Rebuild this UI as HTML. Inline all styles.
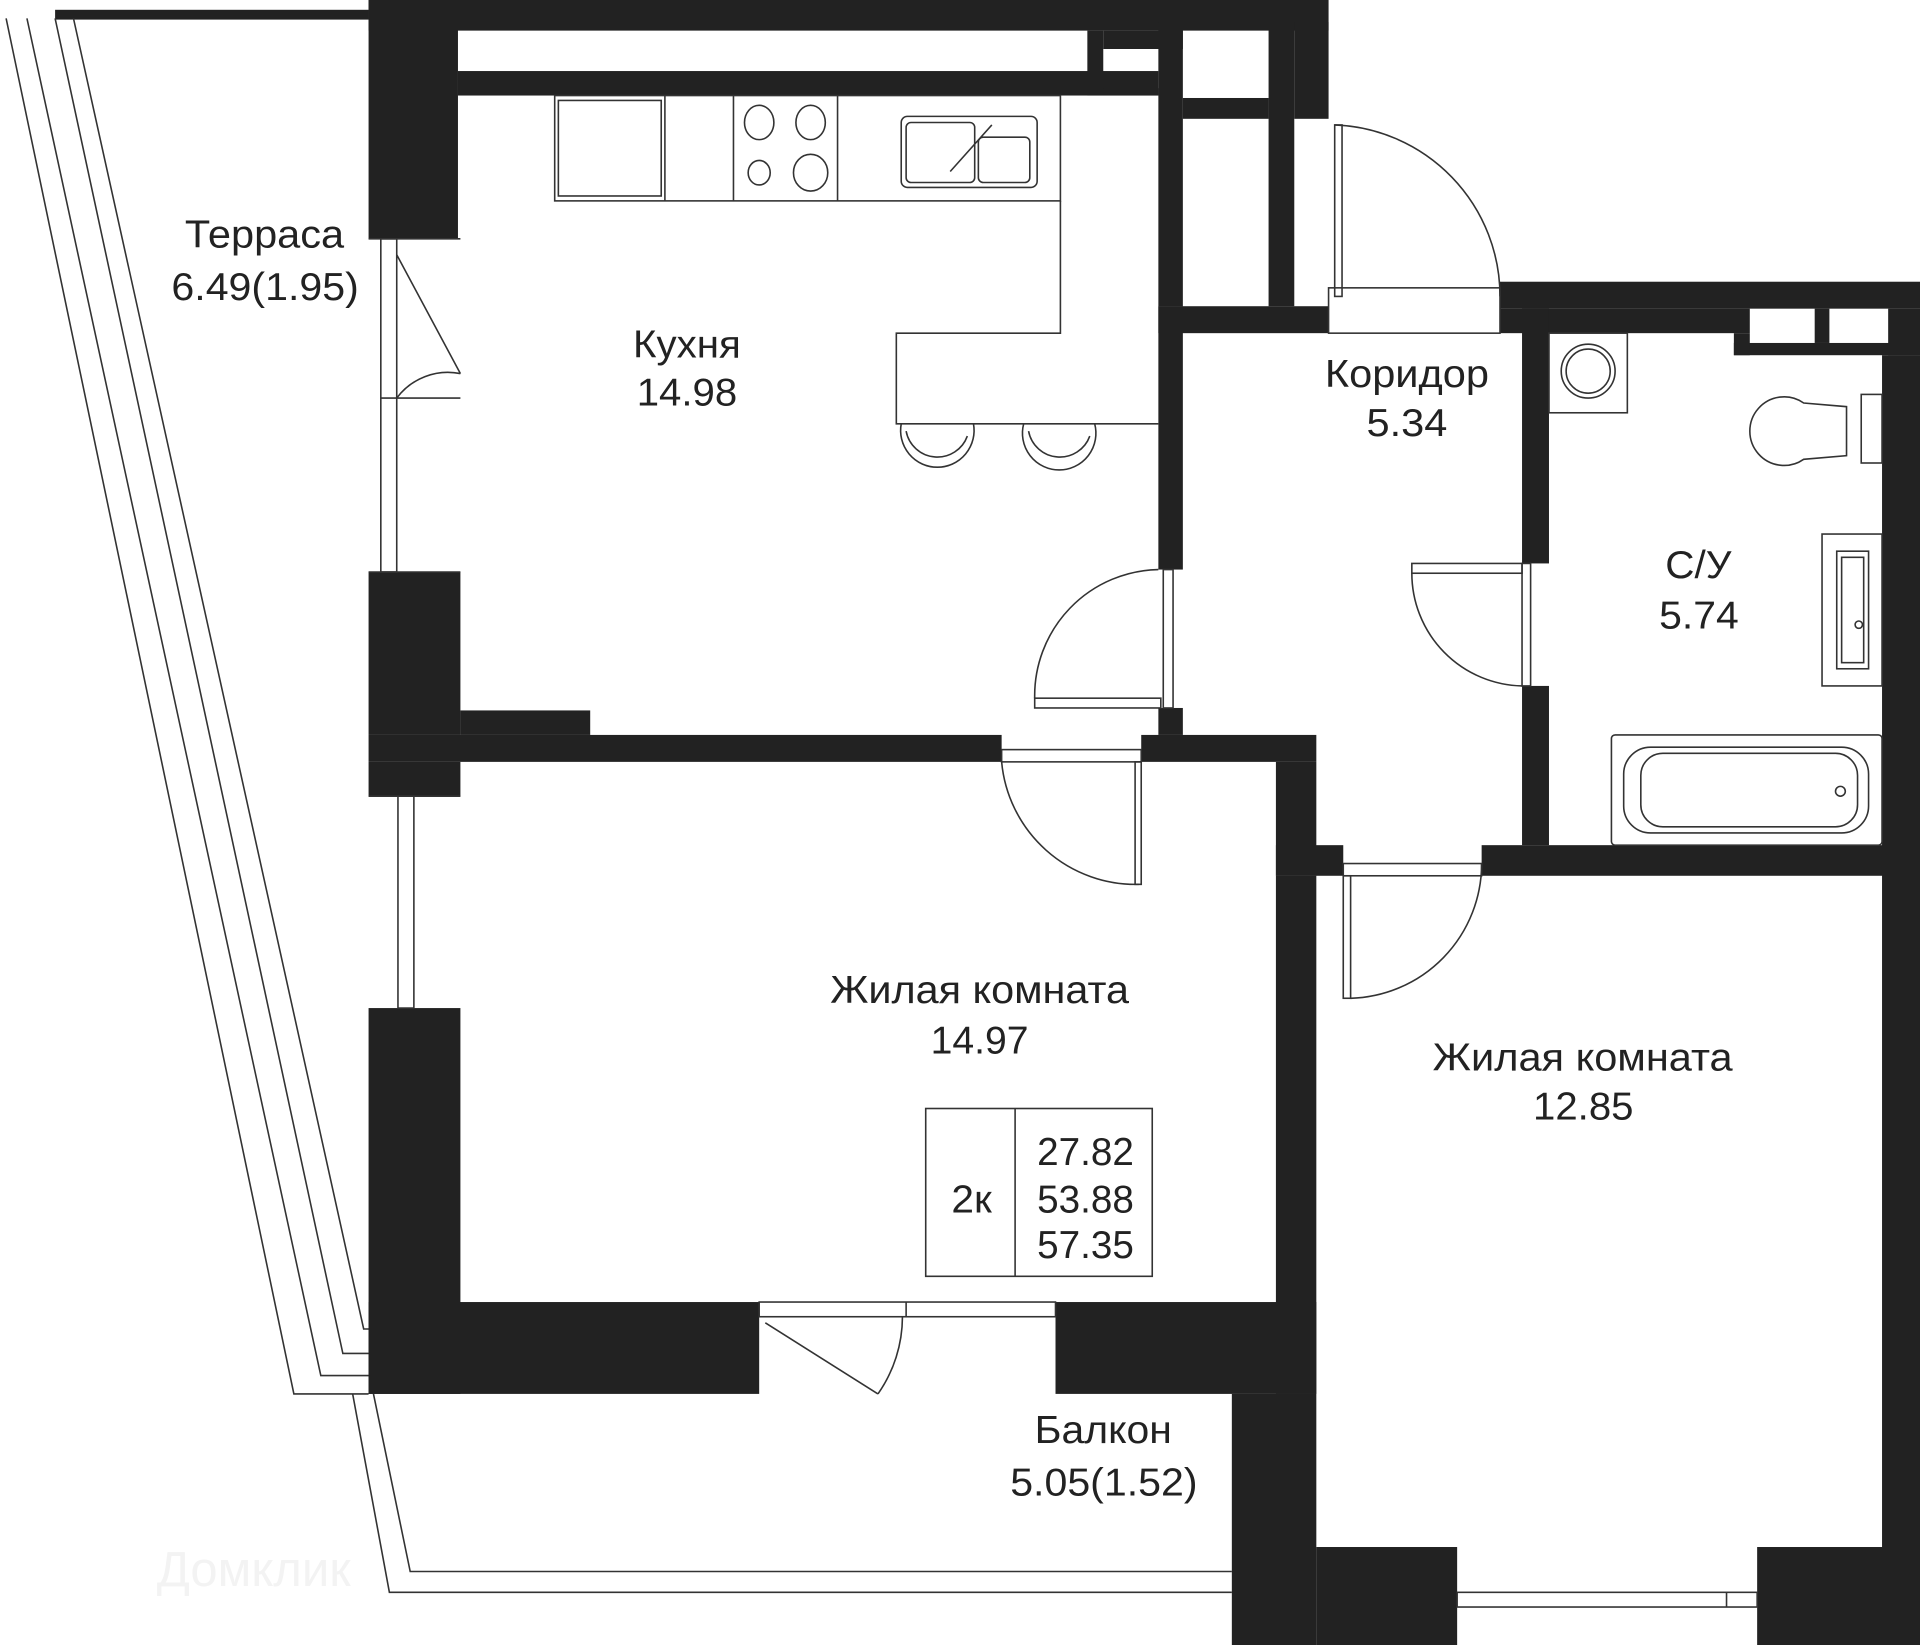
<!DOCTYPE html>
<html><head><meta charset="utf-8"><style>
html,body{margin:0;padding:0;background:#fff;}
svg{display:block;}
text{font-family:"Liberation Sans",sans-serif;fill:#222;}
</style></head><body>
<svg width="1920" height="1645" viewBox="0 0 1568 1343" preserveAspectRatio="none" xmlns="http://www.w3.org/2000/svg">
<rect width="1568" height="1343" fill="#fff"/>
<g fill="#222">
<rect x="301" y="0" width="784" height="25"/>
<rect x="301" y="0" width="73" height="195"/>
<rect x="374" y="58" width="572" height="20"/>
<rect x="888" y="25" width="13" height="53"/>
<rect x="901" y="25" width="65" height="15"/>
<rect x="901" y="72" width="45" height="6"/>
<rect x="946" y="18" width="20" height="232"/>
<rect x="966" y="80" width="70" height="17"/>
<rect x="1036" y="18" width="21" height="232"/>
<rect x="1057" y="18" width="28" height="79"/>
<rect x="946" y="250" width="139" height="22"/>
<rect x="946" y="250" width="20" height="215"/>
<rect x="1225" y="230" width="343" height="22"/>
<rect x="1225" y="252" width="40" height="20"/>
<rect x="1243" y="252" width="22" height="208"/>
<rect x="1265" y="252" width="164" height="20"/>
<rect x="1416" y="272" width="13" height="18"/>
<rect x="1416" y="280" width="152" height="10"/>
<rect x="1482" y="252" width="12" height="28"/>
<rect x="1542" y="252" width="26" height="38"/>
<rect x="1537" y="290" width="31" height="1053"/>
<rect x="301" y="467" width="75" height="133"/>
<rect x="376" y="580" width="106" height="20"/>
<rect x="301" y="600" width="517" height="22"/>
<rect x="301" y="622" width="75" height="28"/>
<rect x="946" y="578" width="20" height="22"/>
<rect x="932" y="600" width="143" height="22"/>
<rect x="1042" y="622" width="33" height="93"/>
<rect x="1042" y="690" width="55" height="25"/>
<rect x="1210" y="690" width="358" height="25"/>
<rect x="1243" y="560" width="22" height="130"/>
<rect x="301" y="823" width="75" height="315"/>
<rect x="301" y="1063" width="319" height="75"/>
<rect x="862" y="1063" width="213" height="75"/>
<rect x="1042" y="715" width="33" height="423"/>
<rect x="1006" y="1138" width="69" height="205"/>
<rect x="1075" y="1263" width="115" height="80"/>
<rect x="1435" y="1263" width="133" height="80"/>
</g>
<g fill="none" stroke="#333" stroke-width="1.3">
<rect x="45" y="8" width="256" height="8" fill="#222" stroke="none"/>
<polyline points="5,15 240,1138 301,1138"/>
<polyline points="22,15 262,1123 301,1123"/>
<polyline points="45,15 280,1105 301,1105"/>
<polyline points="60,15 297,1085 301,1085"/>
<polyline points="288,1138 318,1300 1006,1300"/>
<polyline points="305,1138 335,1283 1006,1283"/>
<rect x="311" y="195" width="13" height="272"/>
<line x1="301" y1="195" x2="376" y2="195"/><line x1="301" y1="467" x2="376" y2="467"/>
<line x1="311" y1="325" x2="376" y2="325"/>
<path d="M324,208 L376,305 M324,325 A52,52 0 0 1 376,305"/>
<rect x="325" y="650" width="13" height="173"/>
<line x1="301" y1="650" x2="376" y2="650"/>
<rect x="620" y="1063" width="242" height="12"/>
<line x1="740" y1="1063" x2="740" y2="1075"/>
<path d="M625,1080 L717,1138 M737,1075 A110,110 0 0 1 717,1138"/>
<rect x="1190" y="1300" width="245" height="12"/>
<line x1="1410" y1="1300" x2="1410" y2="1312"/>
<rect x="453" y="78" width="413" height="86"/>
<rect x="456" y="82" width="84" height="78"/>
<line x1="543" y1="78" x2="543" y2="164"/><line x1="599" y1="78" x2="599" y2="164"/><line x1="684" y1="78" x2="684" y2="164"/>
<ellipse cx="620" cy="100" rx="12" ry="14"/><ellipse cx="662" cy="100" rx="12" ry="14"/>
<ellipse cx="620" cy="141" rx="9" ry="10"/><ellipse cx="662" cy="141" rx="14" ry="15"/>
<rect x="736" y="95" width="111" height="58" rx="5"/>
<rect x="740" y="100" width="56" height="49" rx="4"/><rect x="799" y="112" width="42" height="37" rx="4"/>
<line x1="810" y1="102" x2="776" y2="140"/>
<path d="M866,164 L866,272 L732,272 L732,346 L946,346"/>
<path d="M736,346 A30,30 0 1 0 795,346 M740,352 A26,26 0 0 0 790,356"/>
<path d="M836,346 A30,30 0 1 0 894,346 M840,352 A26,26 0 0 0 890,356"/>
<rect x="950" y="465" width="8" height="113"/>
<rect x="845" y="570" width="103" height="8"/>
<path d="M845,570 A103,103 0 0 1 946,465"/>
<rect x="818" y="612" width="114" height="10"/>
<rect x="927" y="622" width="5" height="100"/>
<path d="M818,622 A110,110 0 0 0 930,722"/>
<rect x="1085" y="235" width="140" height="37"/>
<rect x="1090" y="102" width="6" height="140"/>
<path d="M1090,102 A140,140 0 0 1 1225,242"/>
<rect x="1243" y="460" width="7" height="100"/>
<rect x="1153" y="460" width="90" height="8"/>
<path d="M1153,468 A92,92 0 0 0 1243,560"/>
<rect x="1097" y="705" width="113" height="10"/>
<rect x="1097" y="715" width="6" height="100"/>
<path d="M1103,815 A110,110 0 0 0 1210,705"/>
<rect x="1265" y="272" width="64" height="65"/>
<circle cx="1297" cy="303" r="22"/><circle cx="1297" cy="303" r="18"/>
<rect x="1520" y="322" width="17" height="56"/>
<path d="M1508,332 L1508,372 L1473,375 A28,28 0 1 1 1473,329 Z"/>
<rect x="1488" y="436" width="49" height="124"/>
<rect x="1500" y="450" width="26" height="96"/><rect x="1504" y="455" width="18" height="86"/>
<circle cx="1518" cy="510" r="3"/>
<rect x="1316" y="600" width="221" height="90" rx="3"/>
<rect x="1326" y="610" width="200" height="70" rx="22"/>
<rect x="1340" y="615" width="177" height="60" rx="18"/>
<circle cx="1503" cy="646" r="4"/>
<rect x="756" y="905" width="185" height="137"/>
<line x1="829" y1="905" x2="829" y2="1042"/>
</g>
<g font-size="32" lengthAdjust="spacingAndGlyphs">
<text x="151" y="202" textLength="130" lengthAdjust="spacingAndGlyphs">Терраса</text>
<text x="140" y="245" textLength="153" lengthAdjust="spacingAndGlyphs">6.49(1.95)</text>
<text x="517" y="292" textLength="88" lengthAdjust="spacingAndGlyphs">Кухня</text>
<text x="520" y="331" textLength="82" lengthAdjust="spacingAndGlyphs">14.98</text>
<text x="1082" y="316" textLength="134" lengthAdjust="spacingAndGlyphs">Коридор</text>
<text x="1116" y="356" textLength="66" lengthAdjust="spacingAndGlyphs">5.34</text>
<text x="1360" y="472" textLength="54" lengthAdjust="spacingAndGlyphs">С/У</text>
<text x="1355" y="513" textLength="65" lengthAdjust="spacingAndGlyphs">5.74</text>
<text x="678" y="819" textLength="244" lengthAdjust="spacingAndGlyphs">Жилая комната</text>
<text x="760" y="860" textLength="80" lengthAdjust="spacingAndGlyphs">14.97</text>
<text x="1170" y="874" textLength="245" lengthAdjust="spacingAndGlyphs">Жилая комната</text>
<text x="1252" y="914" textLength="82" lengthAdjust="spacingAndGlyphs">12.85</text>
<text x="845" y="1178" textLength="112" lengthAdjust="spacingAndGlyphs">Балкон</text>
<text x="825" y="1221" textLength="153" lengthAdjust="spacingAndGlyphs">5.05(1.52)</text>
<text x="777" y="990" textLength="33" lengthAdjust="spacingAndGlyphs">2к</text>
<text x="847" y="951" textLength="79" lengthAdjust="spacingAndGlyphs">27.82</text>
<text x="847" y="990" textLength="79" lengthAdjust="spacingAndGlyphs">53.88</text>
<text x="847" y="1027" textLength="79" lengthAdjust="spacingAndGlyphs">57.35</text>
</g>
<text x="128" y="1295" font-size="40" style="fill:#f3f3f3">Домклик</text>
</svg>
</body></html>
